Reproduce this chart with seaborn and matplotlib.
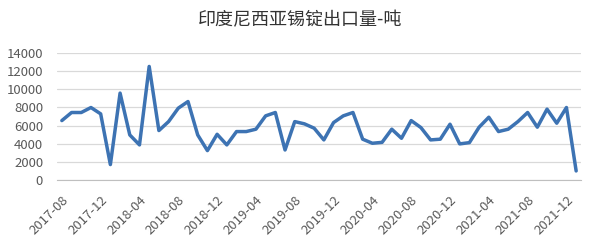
import matplotlib
matplotlib.use("Agg")
import matplotlib.pyplot as plt
import seaborn as sns
import pandas as pd
import numpy as np

months = pd.period_range("2017-08", "2022-01", freq="M").strftime("%Y-%m").tolist()
values = [6550, 7440, 7440, 7990, 7290, 1700, 9580, 4970, 3870, 12520,
          5450, 6440, 7920, 8650, 4970, 3240, 5040, 3870, 5340, 5340,
          5600, 7070, 7440, 3310, 6440, 6190, 5710, 4420, 6330, 7070,
          7440, 4500, 4050, 4150, 5600, 4600, 6550, 5780, 4420, 4500,
          6150, 3980, 4120, 5820, 6920, 5340, 5600, 6440, 7440, 5820,
          7810, 6260, 7990, 1000]
yticks = [0, 2000, 4000, 6000, 8000, 10000, 12000, 14000]
title = "印度尼西亚锡锭出口量-吨"

df = pd.DataFrame({"idx": np.arange(len(months)), "month": months, "value": values})

sns.set_theme(style="white")
plt.rcParams["font.family"] = ["Noto Sans CJK SC", "DejaVu Sans"]

fig = plt.figure(figsize=(6.0, 2.44), dpi=100)
ax = fig.add_axes([57/600, 1-180/244, (581-57)/600, (180-53)/244])

sns.lineplot(data=df, x="idx", y="value", ax=ax, color="#3d73b3", linewidth=2.5)

ax.set_xlim(-0.5, len(months) - 0.5)
ax.set_ylim(0, 14000)
ax.set_yticks(yticks)
ax.set_yticklabels([str(v) for v in yticks], fontsize=9.5, color="#595959")
ax.yaxis.grid(True, color="#d9d9d9", linewidth=0.9)
ax.set_axisbelow(True)

tick_idx = list(range(0, len(months), 4))
ax.set_xticks(tick_idx)
ax.set_xticklabels([months[i] for i in tick_idx], rotation=45, ha="right",
                   rotation_mode="anchor", fontsize=9.5, color="#595959")
ax.set_xticks([i - 0.5 for i in tick_idx], minor=True)
ax.tick_params(axis="x", which="major", length=0, pad=10)
ax.tick_params(axis="x", which="minor", length=4, color="#bfbfbf", width=0.8)
ax.tick_params(axis="y", length=0, pad=10)

for s in ["left", "right", "top"]:
    ax.spines[s].set_visible(False)
ax.spines["bottom"].set_color("#bfbfbf")
ax.spines["bottom"].set_linewidth(0.8)

ax.set_xlabel("")
ax.set_ylabel("")
fig.text(0.5, 1 - 20.5/244, title, ha="center", va="center", fontsize=13, color="#333333")

fig.savefig("out.png", dpi=100)
